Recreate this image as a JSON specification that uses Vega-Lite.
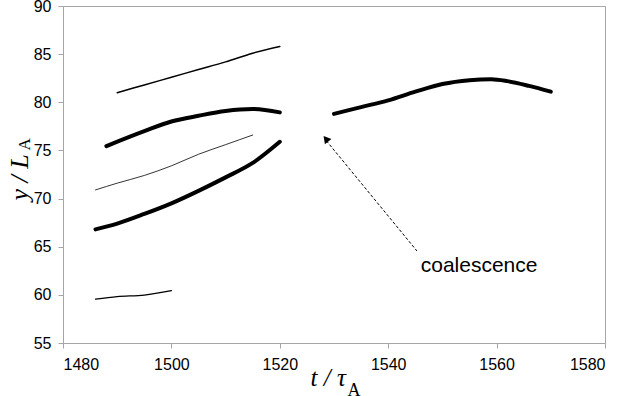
{
  "$schema": "https://vega.github.io/schema/vega-lite/v6.json",
  "width": 542,
  "height": 337,
  "autosize": "none",
  "padding": {"left": 63, "top": 6, "right": 19, "bottom": 53},
  "background": "white",
  "config": {
    "view": {"stroke": "#a6a6a6", "strokeWidth": 1},
    "axis": {
      "grid": false,
      "domainColor": "#a6a6a6",
      "tickColor": "#a6a6a6",
      "tickSize": 5,
      "labelFont": "Liberation Sans",
      "labelFontSize": 16,
      "labelColor": "black",
      "titleColor": "black"
    }
  },
  "datasets": {
    "lines": [
      {"s": "A", "t": 1490, "y": 81.0},
      {"s": "A", "t": 1495, "y": 81.8},
      {"s": "A", "t": 1500, "y": 82.6},
      {"s": "A", "t": 1505, "y": 83.4},
      {"s": "A", "t": 1510, "y": 84.2},
      {"s": "A", "t": 1515, "y": 85.1},
      {"s": "A", "t": 1520, "y": 85.8},
      {"s": "B", "t": 1488, "y": 75.45},
      {"s": "B", "t": 1495, "y": 77.0},
      {"s": "B", "t": 1500, "y": 78.0},
      {"s": "B", "t": 1505, "y": 78.6},
      {"s": "B", "t": 1510, "y": 79.1},
      {"s": "B", "t": 1515, "y": 79.3},
      {"s": "B", "t": 1520, "y": 78.95},
      {"s": "C", "t": 1486, "y": 70.9},
      {"s": "C", "t": 1490, "y": 71.6},
      {"s": "C", "t": 1495, "y": 72.4},
      {"s": "C", "t": 1500, "y": 73.4},
      {"s": "C", "t": 1505, "y": 74.6},
      {"s": "C", "t": 1510, "y": 75.6},
      {"s": "C", "t": 1515, "y": 76.6},
      {"s": "D", "t": 1486, "y": 66.8},
      {"s": "D", "t": 1490, "y": 67.4},
      {"s": "D", "t": 1495, "y": 68.4},
      {"s": "D", "t": 1500, "y": 69.5},
      {"s": "D", "t": 1505, "y": 70.8},
      {"s": "D", "t": 1510, "y": 72.2},
      {"s": "D", "t": 1515, "y": 73.7},
      {"s": "D", "t": 1520, "y": 75.9},
      {"s": "E", "t": 1486, "y": 59.55},
      {"s": "E", "t": 1490, "y": 59.82},
      {"s": "E", "t": 1495, "y": 59.98},
      {"s": "E", "t": 1500, "y": 60.44},
      {"s": "F", "t": 1530, "y": 78.8},
      {"s": "F", "t": 1535, "y": 79.5},
      {"s": "F", "t": 1540, "y": 80.2},
      {"s": "F", "t": 1545, "y": 81.1},
      {"s": "F", "t": 1550, "y": 81.9},
      {"s": "F", "t": 1555, "y": 82.3},
      {"s": "F", "t": 1559, "y": 82.4},
      {"s": "F", "t": 1562, "y": 82.2},
      {"s": "F", "t": 1566, "y": 81.7},
      {"s": "F", "t": 1570, "y": 81.1}
    ],
    "arrow": [
      {"t": 1545.3, "y": 64.56},
      {"t": 1528.6, "y": 76.0}
    ],
    "head": [
      {"t": 1528.5, "y": 76.2}
    ],
    "label": [
      {"t": 1546, "y": 62.35, "text": "coalescence"}
    ]
  },
  "resolve": {"axis": {"x": "independent", "y": "independent"}},
  "layer": [
    {
      "data": {"name": "lines"},
      "mark": {"type": "line", "interpolate": "monotone", "strokeCap": "round", "color": "black"},
      "encoding": {
        "x": {
          "field": "t", "type": "quantitative",
          "scale": {"domain": [1480, 1580], "nice": false, "zero": false},
          "axis": {
            "values": [1480, 1500, 1520, 1540, 1560, 1580],
            "format": "d",
            "labelPadding": 8,
            "title": "t / τ",
            "titleFont": "Liberation Serif",
            "titleFontStyle": "italic",
            "titleFontWeight": "normal",
            "titleFontSize": 25,
            "titleAlign": "left",
            "titleAnchor": null,
            "titleBaseline": "alphabetic",
            "titleX": 247,
            "titleY": 42
          }
        },
        "y": {
          "field": "y", "type": "quantitative",
          "scale": {"domain": [55, 90], "nice": false, "zero": false},
          "axis": {
            "values": [55, 60, 65, 70, 75, 80, 85, 90],
            "format": "d",
            "labelPadding": 7,
            "title": "y / L",
            "titleFont": "Liberation Serif",
            "titleFontStyle": "italic",
            "titleFontWeight": "normal",
            "titleFontSize": 26,
            "titleAlign": "left",
            "titleAnchor": null,
            "titleBaseline": "alphabetic",
            "titleAngle": 270,
            "titleX": -36,
            "titleY": 194
          }
        },
        "detail": {"field": "s", "type": "nominal"},
        "strokeWidth": {
          "field": "s", "type": "nominal",
          "scale": {"type": "ordinal", "domain": ["A", "B", "C", "D", "E", "F"], "range": [1.5, 4, 0.8, 4, 1.3, 4]},
          "legend": null
        }
      }
    },
    {
      "data": {"name": "arrow"},
      "mark": {"type": "line", "color": "black", "strokeWidth": 1, "strokeDash": [3, 2]},
      "encoding": {
        "x": {
          "field": "t", "type": "quantitative",
          "axis": {
            "orient": "bottom",
            "labels": false, "ticks": false, "domain": false,
            "title": "A",
            "titleFont": "Liberation Serif",
            "titleFontStyle": "normal",
            "titleFontWeight": "normal",
            "titleFontSize": 18,
            "titleAlign": "left",
            "titleAnchor": null,
            "titleBaseline": "alphabetic",
            "titleX": 284,
            "titleY": 52
          }
        },
        "y": {
          "field": "y", "type": "quantitative",
          "axis": {
            "orient": "left",
            "labels": false, "ticks": false, "domain": false,
            "title": "A",
            "titleFont": "Liberation Serif",
            "titleFontStyle": "normal",
            "titleFontWeight": "normal",
            "titleFontSize": 17,
            "titleAlign": "left",
            "titleAnchor": null,
            "titleBaseline": "alphabetic",
            "titleAngle": 270,
            "titleX": -34,
            "titleY": 144
          }
        }
      }
    },
    {
      "data": {"name": "head"},
      "mark": {"type": "point", "shape": "triangle-up", "filled": true, "color": "black", "opacity": 1, "size": 70, "angle": 321},
      "encoding": {
        "x": {"field": "t", "type": "quantitative", "axis": null},
        "y": {"field": "y", "type": "quantitative", "axis": null}
      }
    },
    {
      "data": {"name": "label"},
      "mark": {"type": "text", "font": "Liberation Sans", "fontSize": 21, "align": "left", "baseline": "alphabetic", "color": "black"},
      "encoding": {
        "x": {"field": "t", "type": "quantitative", "axis": null},
        "y": {"field": "y", "type": "quantitative", "axis": null},
        "text": {"field": "text"}
      }
    }
  ]
}
